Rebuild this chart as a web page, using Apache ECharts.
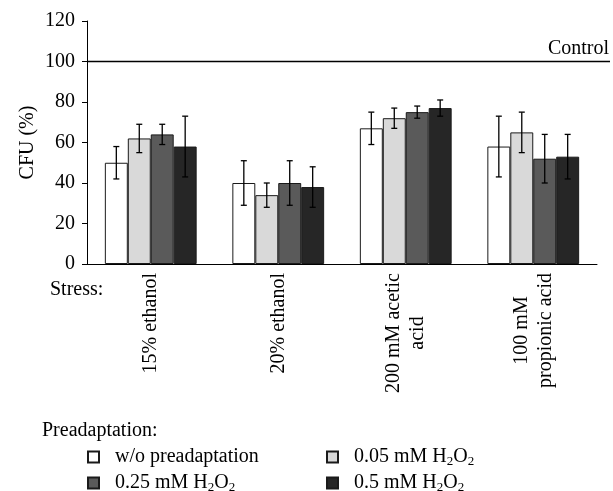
<!DOCTYPE html>
<html lang="en">
<head>
    <meta charset="UTF-8"/>
    <title>CFU preadaptation</title>
    <script src="https://cdn.jsdelivr.net/npm/echarts@6/dist/echarts.min.js"></script>
    <style>
        html, body { margin: 0; padding: 0; background: #fff; }
    </style>
</head>
<body>
<div id="main" style="width: 613px;height:491px;"></div>
<script type="text/javascript">
    // stress conditions on the x axis
    var stresses = ['15% ethanol', '20% ethanol', '200 mM acetic\nacid', '100 mM\npropionic acid'];
    // preadaptation groups
    var groups = ['w/o preadaptation', '0.05 mM H2O2', '0.25 mM H2O2', '0.5 mM H2O2'];
    var colors = ['#ffffff', '#d9d9d9', '#5a5a5a', '#262626'];
    // mean CFU (%) per group
    var woPre   = [50, 40, 67, 58];
    var h005    = [62, 34, 72, 65];
    var h025    = [64, 40, 75, 52];
    var h05     = [58, 38, 77, 53];
    // error bar half-widths
    var woPreErr = [8, 11, 8, 15];
    var h005Err  = [7, 6, 5, 10];
    var h025Err  = [5, 11, 3, 12];
    var h05Err   = [15, 10, 4, 11];
    var yTicks = [0, 20, 40, 60, 80, 100, 120];
    var controlLevel = 100;

    var means = [woPre, h005, h025, h05];
    var errs = [woPreErr, h005Err, h025Err, h05Err];
    var FONT = 'Liberation Serif';
    var catGap = 0.28;

    var myChart = echarts.init(document.getElementById('main'));

    function legendLabel(name) {
        if (name.indexOf('H2O2') < 0) return '{n|' + name + '}';
        return '{n|' + name.replace(' H2O2', ' H') + '}{s|2}{n|O}{s|2}';
    }

    var series = [];
    means.forEach(function (vals, i) {
        series.push({
            name: groups[i],
            type: 'bar',
            data: vals,
            barGap: '0%',
            barCategoryGap: (catGap * 100) + '%',
            itemStyle: { color: colors[i], borderColor: '#1a1a1a', borderWidth: 1 }
        });
    });
    means.forEach(function (vals, i) {
        series.push({
            type: 'custom',
            z: 5,
            silent: true,
            data: vals.map(function (v, k) { return [k, v - errs[i][k], v + errs[i][k]]; }),
            renderItem: function (params, api) {
                var lo = api.coord([api.value(0), api.value(1)]);
                var hi = api.coord([api.value(0), api.value(2)]);
                var band = api.size([1, 0])[0];
                var bw = band * (1 - catGap) / 4;
                var cx = lo[0] + (i - 1.5) * bw;
                var cap = 3;
                var st = { stroke: '#000', lineWidth: 1.3 };
                return {
                    type: 'group',
                    children: [
                        { type: 'line', shape: { x1: cx, y1: lo[1], x2: cx, y2: hi[1] }, style: st },
                        { type: 'line', shape: { x1: cx - cap, y1: lo[1], x2: cx + cap, y2: lo[1] }, style: st },
                        { type: 'line', shape: { x1: cx - cap, y1: hi[1], x2: cx + cap, y2: hi[1] }, style: st }
                    ]
                };
            }
        });
    });

    var legendText = {
        fontFamily: FONT, fontSize: 20, color: '#000',
        padding: [0, 0, 0, 11],
        rich: {
            n: { fontFamily: FONT, fontSize: 20, color: '#000' },
            s: { fontFamily: FONT, fontSize: 13, color: '#000', padding: [9, 0, 0, 0] }
        }
    };
    // one legend per entry, laid out as a 2x2 grid
    var legendPos = [[82, 442], [321, 442], [82, 468], [321, 468]];
    var legends = groups.map(function (g, i) {
        return {
            data: [g], left: legendPos[i][0], top: legendPos[i][1],
            itemWidth: 11, itemHeight: 11, icon: 'rect',
            textStyle: legendText, formatter: legendLabel
        };
    });

    var option = {
        animation: false,
        textStyle: { fontFamily: FONT },
        grid: { left: 87, right: 16, top: 21, bottom: 227 },
        legend: legends,
        xAxis: {
            type: 'category',
            data: stresses,
            axisLine: { lineStyle: { color: '#000', width: 1 } },
            axisTick: { length: 5, lineStyle: { color: '#000' } },
            axisLabel: {
                rotate: 90, margin: 9, color: '#000',
                formatter: function (v) {
                    return v.split('\n').map(function (s) { return '{c|' + s + '}'; }).join('\n');
                },
                rich: { c: { fontFamily: FONT, fontSize: 20, color: '#000', align: 'center', lineHeight: 24 } }
            }
        },
        yAxis: {
            type: 'value',
            min: yTicks[0], max: yTicks[yTicks.length - 1], interval: 20,
            name: 'CFU (%)', nameLocation: 'middle', nameGap: 49, nameMoveOverlap: false,
            nameTextStyle: { fontFamily: FONT, fontSize: 20, color: '#000' },
            splitLine: { show: false },
            axisLine: { show: true, lineStyle: { color: '#000', width: 1 } },
            axisTick: { show: true, length: 5, lineStyle: { color: '#000' } },
            axisLabel: { fontFamily: FONT, fontSize: 20, color: '#000', margin: 12 }
        },
        series: series
    };
    myChart.setOption(option);

    // control line extends a bit past the x axis end
    var yCtrl = myChart.convertToPixel({ yAxisIndex: 0 }, controlLevel);
    myChart.setOption({
        graphic: [
            { type: 'line', shape: { x1: 87, y1: yCtrl, x2: 610, y2: yCtrl }, style: { stroke: '#000', lineWidth: 1.3 } },
            { type: 'text', x: 609, y: yCtrl - 3, style: { text: 'Control', fontFamily: FONT, fontSize: 20, fill: '#000', textAlign: 'right', textVerticalAlign: 'bottom' } },
            { type: 'text', x: 50, y: 290, style: { text: 'Stress:', fontFamily: FONT, fontSize: 20, fill: '#000', textAlign: 'left', textVerticalAlign: 'middle' } },
            { type: 'text', x: 42, y: 431, style: { text: 'Preadaptation:', fontFamily: FONT, fontSize: 20, fill: '#000', textAlign: 'left', textVerticalAlign: 'middle' } }
        ]
    });
</script>
</body>
</html>
